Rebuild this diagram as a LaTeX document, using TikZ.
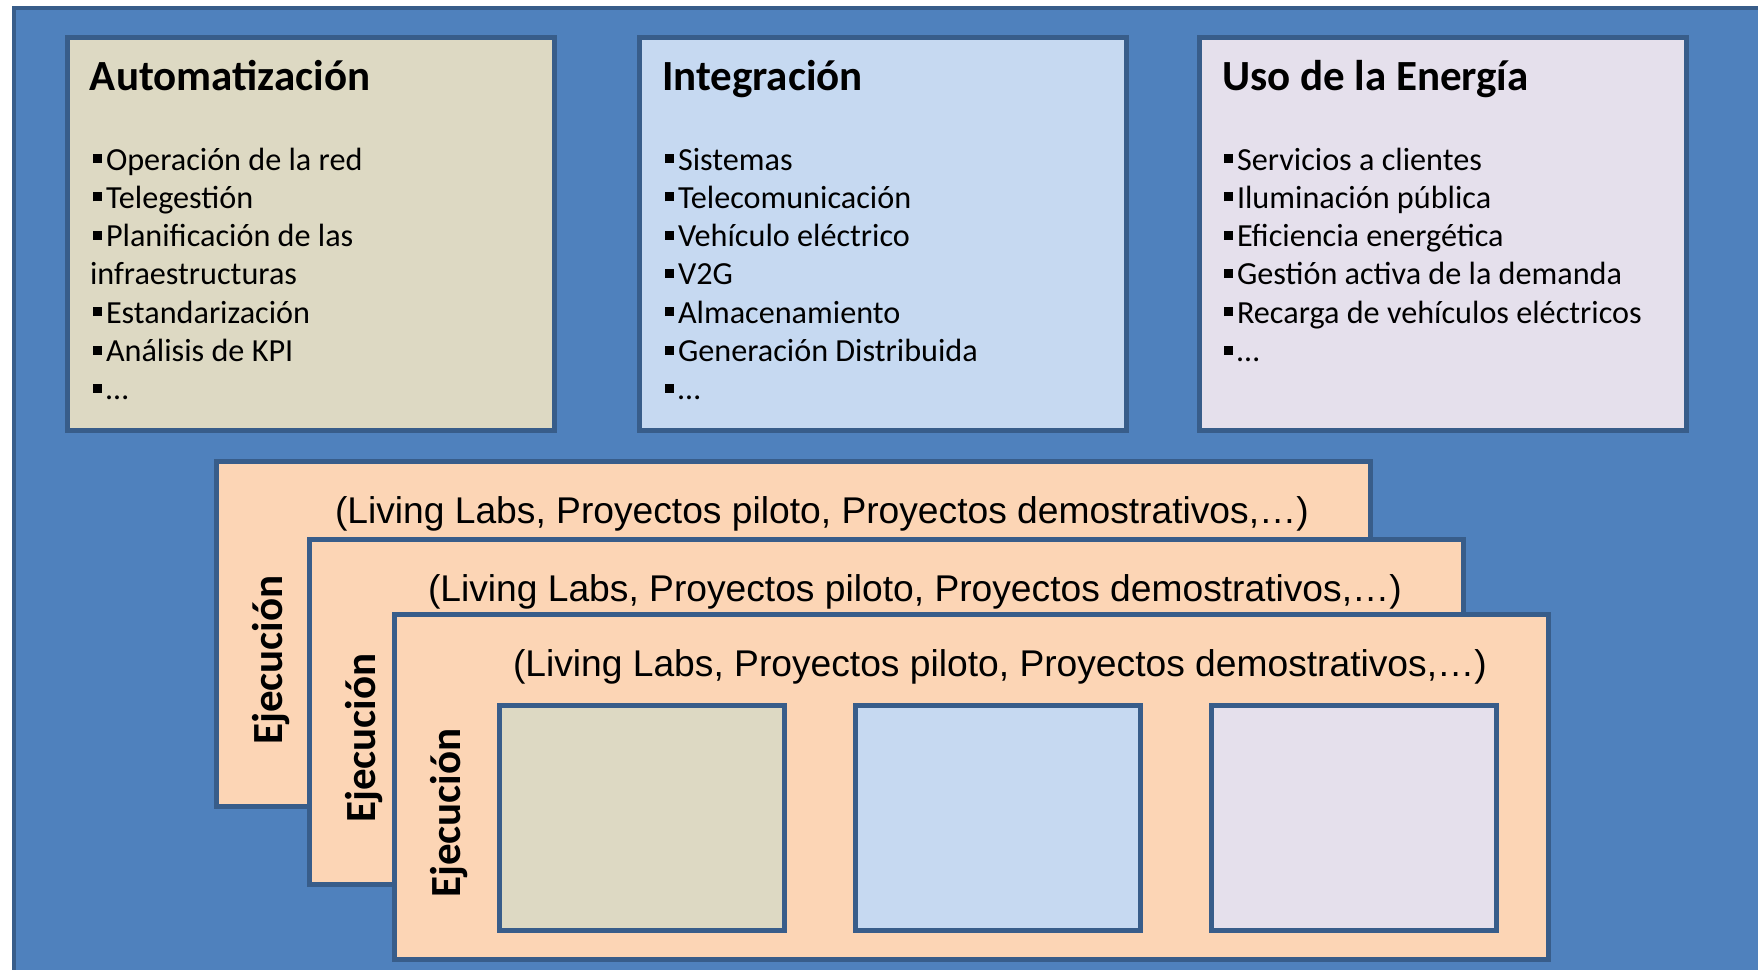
\documentclass[tikz,border=0pt]{standalone}
\usepackage{fontspec}
\setmainfont{Carlito}
\newfontfamily\arialfont{Liberation Sans}
\usepackage{xcolor}
\usetikzlibrary{positioning}

\definecolor{bgblue}{HTML}{4F81BD}
\definecolor{edgeblue}{HTML}{385D8A}
\definecolor{tanbox}{HTML}{DDD9C3}
\definecolor{bluebox}{HTML}{C6D9F1}
\definecolor{lilacbox}{HTML}{E5E0EC}
\definecolor{peach}{HTML}{FCD5B5}

\newcommand{\bul}{\rule[3.5pt]{4.5pt}{4.5pt}\hspace{2pt}}

\begin{document}
\begin{tikzpicture}[
	x = 0.5pt, y = -0.5pt,
	every node/.style = {inner sep = 0pt, outer sep = 0pt},
	area/.style = {draw = edgeblue, line width = 2.5pt, anchor = north west, minimum width = 243.5pt, minimum height = 196.5pt},
	head/.style = {font = \fontsize{21.5}{26}\selectfont\bfseries, anchor = base west, xshift = 11.25pt, yshift = -26.25pt},
	item/.style = {font = \fontsize{16.1}{19}\selectfont, anchor = base west},
	panel/.style = {draw = edgeblue, line width = 2.5pt, fill = peach, anchor = north west, minimum width = 577pt, minimum height = 172.5pt},
	living/.style = {font = \arialfont\fontsize{18.6}{22}\selectfont, anchor = base west, xshift = 59.25pt, yshift = -30.75pt},
	ejec/.style = {font = \fontsize{21.5}{26}\selectfont\bfseries, xshift = 32.75pt, yshift = -99.25pt, rotate = 90, anchor = base},
	cell/.style = {draw = edgeblue, line width = 2.5pt, anchor = north west, minimum width = 142.5pt, minimum height = 112.5pt}
	]
	
	\useasboundingbox (0, 0) rectangle (1758, 970);
	\clip (0, 0) rectangle (1758, 970);
	\fill[white] (0, 0) rectangle (1758, 970);
	\draw[draw = edgeblue, fill = bgblue, line width = 2pt] (14, 7.5) rectangle (1790, 1000);
	
	% the three areas
	\node[area, fill = tanbox] (auto) at (67.5, 37.5) {};
	\node[area, fill = bluebox, right = 42.5pt of auto] (integ) {};
	\node[area, fill = lilacbox, right = 36.5pt of integ] (uso) {};
	
	\node[head] (autoT) at (auto.north west) {Automatización};
	\node[head] (integT) at (integ.north west) {Integración};
	\node[head] (usoT) at (uso.north west) {Uso de la Energía};
	
	\foreach \txt [count = \i] in {\bul Operación de la red, \bul Telegestión, \bul Planificación de las, \kern-1.5pt infraestructuras, \bul Estandarización, \bul Análisis de KPI, \bul …}
		\node[item] (autoI\i) at (93, {170 + 38.3*(\i - 1)}) {\txt};
	\foreach \txt [count = \i] in {\bul Sistemas, \bul Telecomunicación, \bul Vehículo eléctrico, \bul V2G, \bul Almacenamiento, \bul Generación Distribuida, \bul …}
		\node[item] (integI\i) at (665, {170 + 38.3*(\i - 1)}) {\txt};
	\foreach \txt [count = \i] in {\bul Servicios a clientes, \bul Iluminación pública, \bul Eficiencia energética, \bul Gestión activa de la demanda, \bul Recarga de vehículos eléctricos, \bul …}
		\node[item] (usoI\i) at (1224, {170 + 38.3*(\i - 1)}) {\txt};
	
	% stacked execution panels
	\node[panel] (p1) at (216.5, 461.5) {};
	\node[living] (l1) at (p1.north west) {(Living Labs, Proyectos piloto, Proyectos demostrativos,…)};
	\node[ejec] (e1) at (p1.north west) {Ejecución};
	
	\node[panel] (p2) at (309.5, 539.5) {};
	\node[living] (l2) at (p2.north west) {(Living Labs, Proyectos piloto, Proyectos demostrativos,…)};
	\node[ejec] (e2) at (p2.north west) {Ejecución};
	
	\node[panel] (p3) at (394.5, 614.5) {};
	\node[living] (l3) at (p3.north west) {(Living Labs, Proyectos piloto, Proyectos demostrativos,…)};
	\node[ejec] (e3) at (p3.north west) {Ejecución};
	
	\node[cell, fill = tanbox] (c1) at (499.5, 705.5) {};
	\node[cell, fill = bluebox, right = 35.5pt of c1] (c2) {};
	\node[cell, fill = lilacbox, right = 35.5pt of c2] (c3) {};

\end{tikzpicture}
\end{document}
